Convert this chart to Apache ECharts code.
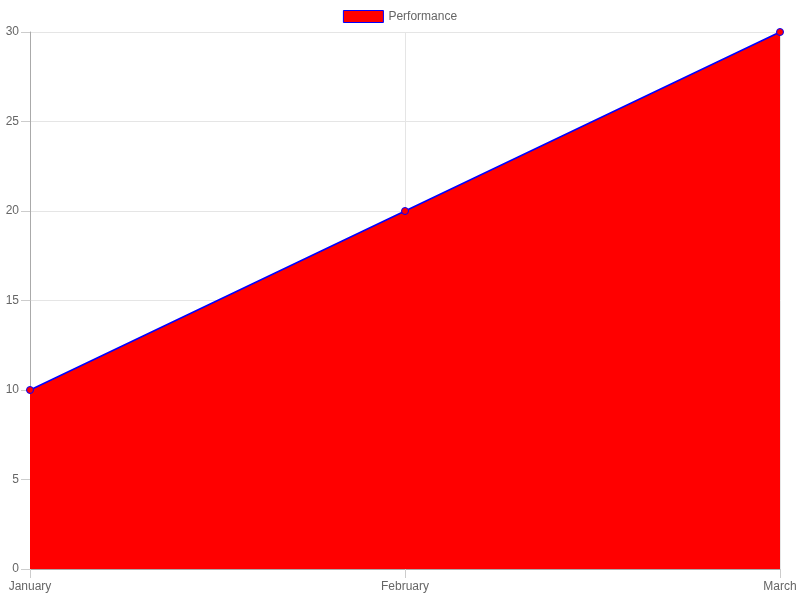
<!DOCTYPE html>
<html>
<head>
<meta charset="utf-8">
<script src="https://cdn.jsdelivr.net/npm/echarts@6/dist/echarts.min.js"></script>
<style>html,body{margin:0;padding:0;background:#fff}#c{width:800px;height:600px}</style>
</head>
<body>
<div id="c"></div>
<script>
var categories = ['January', 'February', 'March'];
var performance = [10, 20, 30];
var seriesName = 'Performance';

var chart = echarts.init(document.getElementById('c'));
var font = '"Liberation Sans", Arial, Helvetica, sans-serif';
chart.setOption({
  animation: false,
  textStyle: { fontFamily: font },
  legend: {
    top: 5,
    left: 'center',
    itemWidth: 40,
    itemHeight: 12,
    itemGap: 10,
    icon: 'rect',
    textStyle: { color: '#666', fontSize: 12, fontFamily: font },
    data: [{ name: seriesName, itemStyle: { color: '#ff0000', borderColor: '#0000ff', borderWidth: 1 } }]
  },
  grid: { left: 30, right: 20, top: 32, bottom: 31, containLabel: false },
  xAxis: {
    type: 'category',
    data: categories,
    boundaryGap: false,
    axisLine: { lineStyle: { color: '#aaa', width: 1 } },
    axisTick: { show: true, length: 9, lineStyle: { color: '#ccc' } },
    axisLabel: { color: '#666', fontSize: 12, margin: 12, fontFamily: font },
    splitLine: { show: true, lineStyle: { color: '#e5e5e5', width: 1 } }
  },
  yAxis: {
    type: 'value',
    min: 0,
    max: 30,
    interval: 5,
    axisLine: { show: true, lineStyle: { color: '#aaa', width: 1 } },
    axisTick: { show: true, length: 9, lineStyle: { color: '#ccc' } },
    axisLabel: { color: '#666', fontSize: 12, margin: 11, fontFamily: font },
    splitLine: { show: true, lineStyle: { color: '#e5e5e5', width: 1 } }
  },
  series: [{
    name: seriesName,
    type: 'line',
    data: performance,
    symbol: 'circle',
    symbolSize: 7,
    showAllSymbol: true,
    lineStyle: { color: '#0000ff', width: 1.5 },
    itemStyle: { color: '#ff0000', borderColor: '#0000ff', borderWidth: 1 },
    areaStyle: { color: '#ff0000', opacity: 1 }
  }]
});
</script>
</body>
</html>
